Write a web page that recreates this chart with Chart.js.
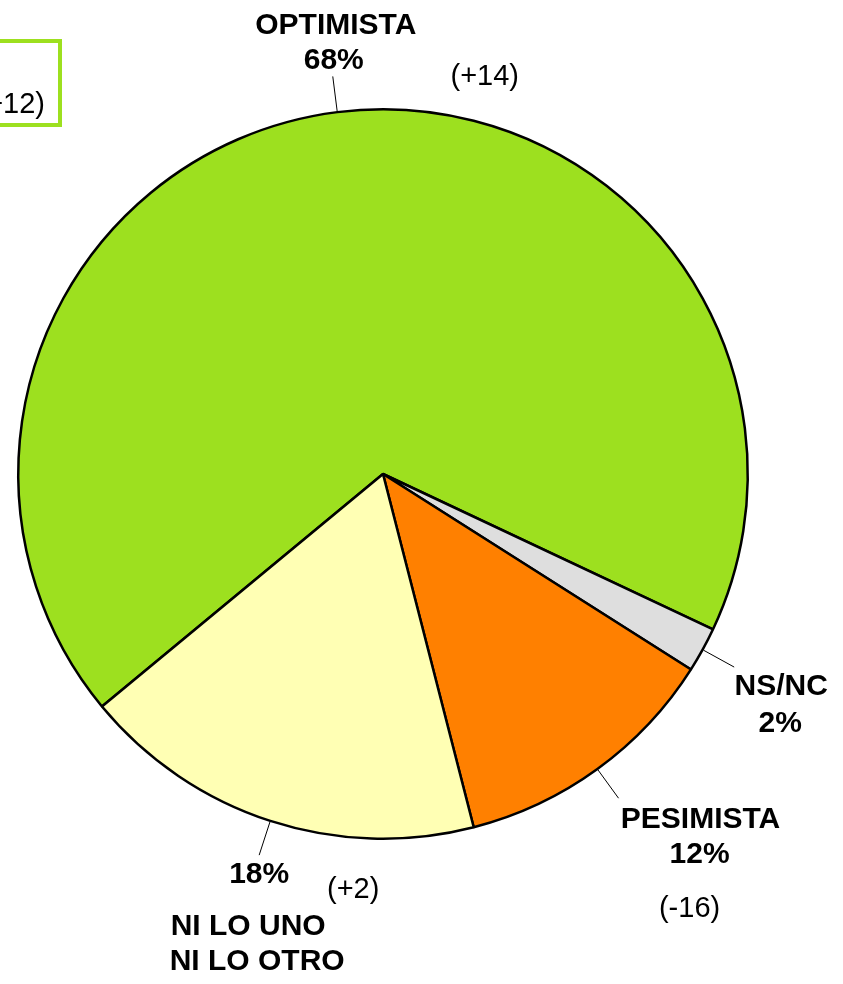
<!DOCTYPE html>
<html><head><meta charset="utf-8">
<script src="https://cdn.jsdelivr.net/npm/chart.js@4/dist/chart.umd.min.js"></script>
<style>html,body{margin:0;padding:0;background:#fff;overflow:hidden}#wrap{width:843px;height:984px;position:relative}</style>
</head><body><div id="wrap"><canvas id="c" width="843" height="984"></canvas></div>
<script>
// ---- data ----
const categories = ['OPTIMISTA', 'NS/NC', 'PESIMISTA', 'NI LO UNO\nNI LO OTRO'];
const values = [68, 2, 12, 18];
const changes = ['(+14)', '', '(-16)', '(+2)'];
const boxText = '(+12)';

// ---- styles ----
const colors = ['#9de01f', '#dedede', '#ff8000', '#ffffb4'];
const FONT = '"Liberation Sans", Arial, sans-serif';
const FSB = 30;
const FS = 29;
// label offsets relative to leader-line end point
const labelLayout = [
  {title: [[3, -42]], pct: [1, -7], chg: [152, 9]},
  {title: [[47, 28]], pct: [46, 65], chg: null},
  {title: [[82, 30]], pct: [81, 65], chg: [71, 119]},
  {title: [[-11, 80], [-2, 115]], pct: [0, 28], chg: [94, 43]}
];

const labelPlugin = {
  id: 'labels',
  afterDraw(chart) {
    const ctx = chart.ctx;
    const meta = chart.getDatasetMeta(0);
    ctx.save();
    ctx.textAlign = 'center';
    ctx.textBaseline = 'alphabetic';
    ctx.fillStyle = '#000';
    meta.data.forEach((arc, i) => {
      const p = arc.getProps(['x', 'y', 'startAngle', 'endAngle', 'outerRadius'], true);
      const mid = (p.startAngle + p.endAngle) / 2;
      const r0 = p.outerRadius + 1, r1 = p.outerRadius + 36;
      const sx = p.x + Math.cos(mid) * r0, sy = p.y + Math.sin(mid) * r0;
      const ex = p.x + Math.cos(mid) * r1, ey = p.y + Math.sin(mid) * r1;
      ctx.beginPath();
      ctx.strokeStyle = '#000';
      ctx.lineWidth = 1;
      ctx.moveTo(sx, sy); ctx.lineTo(ex, ey); ctx.stroke();
      const L = labelLayout[i];
      const lines = categories[i].split('\n');
      ctx.font = 'bold ' + FSB + 'px ' + FONT;
      lines.forEach((t, k) => ctx.fillText(t, ex + L.title[k][0], ey + L.title[k][1]));
      ctx.fillText(values[i] + '%', ex + L.pct[0], ey + L.pct[1]);
      if (L.chg && changes[i]) {
        ctx.font = FS + 'px ' + FONT;
        ctx.fillText(changes[i], ex + L.chg[0], ey + L.chg[1]);
      }
    });
    // partial box at top-left
    ctx.strokeStyle = colors[0];
    ctx.lineWidth = 4;
    ctx.strokeRect(-20, 41, 80, 84);
    ctx.font = FS + 'px ' + FONT;
    ctx.textAlign = 'right';
    ctx.fillStyle = '#000';
    ctx.fillText(boxText, 45, 113);
    ctx.restore();
  }
};

new Chart(document.getElementById('c'), {
  type: 'pie',
  data: {
    labels: categories,
    datasets: [{
      data: values,
      backgroundColor: colors,
      borderColor: '#000',
      borderWidth: 2.5
    }]
  },
  options: {
    responsive: false,
    animation: false,
    rotation: 230.4,
    layout: {padding: {left: 17, right: 94, top: 108, bottom: 144}},
    plugins: {legend: {display: false}, tooltip: {enabled: false}}
  },
  plugins: [labelPlugin]
});
</script>
</body></html>
